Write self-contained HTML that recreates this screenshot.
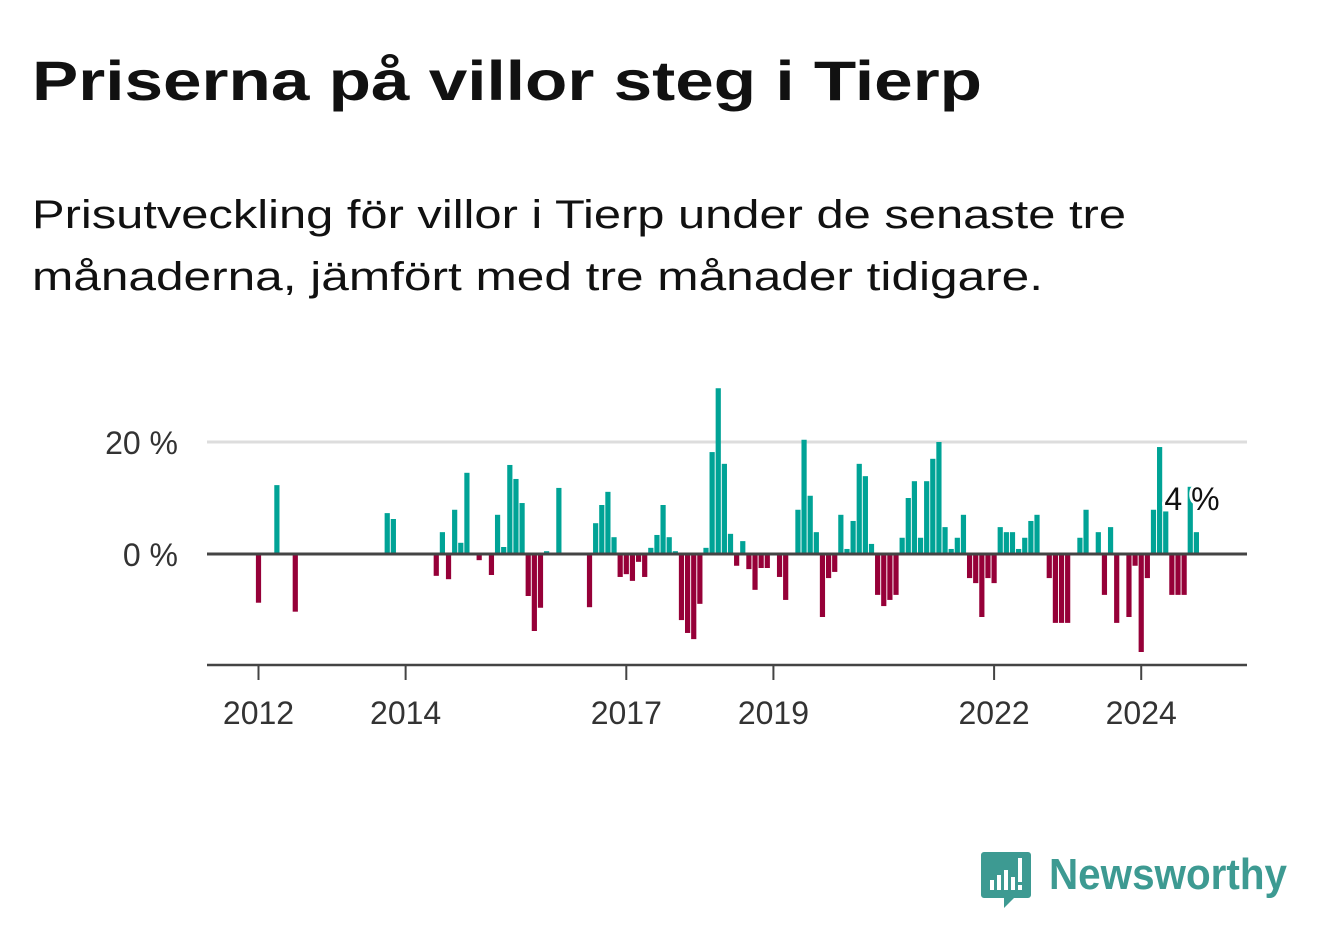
<!DOCTYPE html>
<html><head><meta charset="utf-8"><style>
html,body{margin:0;padding:0;background:#fff;}
svg{display:block;font-family:"Liberation Sans",sans-serif;}
</style></head><body>
<svg id="chart" width="1322" height="939" viewBox="0 0 1322 939" xmlns="http://www.w3.org/2000/svg">
<text x="32" y="100" font-size="56" font-weight="bold" fill="#111" textLength="950" lengthAdjust="spacingAndGlyphs">Priserna på villor steg i Tierp</text>
<text x="32" y="228" font-size="40" fill="#111" textLength="1094" lengthAdjust="spacingAndGlyphs">Prisutveckling för villor i Tierp under de senaste tre</text>
<text x="32" y="290" font-size="40" fill="#111" textLength="1011" lengthAdjust="spacingAndGlyphs">månaderna, jämfört med tre månader tidigare.</text>
<g id="grid"></g>
<g id="bars"></g>
<g id="axes"></g>
<g>
<path d="M984 852 h44 a3 3 0 0 1 3 3 v40 a3 3 0 0 1 -3 3 h-14 l-10 10 v-10 h-20 a3 3 0 0 1 -3 -3 v-40 a3 3 0 0 1 3 -3z" fill="#3d9a92"/>
<rect x="990" y="880" width="4" height="10" fill="#fff"/><rect x="997" y="875" width="4" height="15" fill="#fff"/><rect x="1004" y="870" width="4" height="20" fill="#fff"/><rect x="1011" y="877" width="4" height="13" fill="#fff"/><rect x="1018" y="858" width="4" height="24" fill="#fff"/><rect x="1018" y="885" width="4" height="5" fill="#fff"/>
<text x="1049" y="889" font-size="44" font-weight="bold" fill="#3d9a92" textLength="238" lengthAdjust="spacingAndGlyphs">Newsworthy</text>
</g>
</svg>
<script>
// monthly values (%) starting Jan 2012
const startYear = 2012;
const values = [
-8.7,0,0,12.3,0,0,-10.3,0,0,0,0,0,
0,0,0,0,0,0,0,0,0,7.3,6.25,0,
0,0,0,0,0,-3.9,3.9,-4.5,7.9,2.0,14.5,0,
-1.1,0,-3.75,7.0,1.25,15.9,13.4,9.1,-7.5,-13.75,-9.6,0.5,
0,11.8,0,0,0,0,-9.5,5.5,8.75,11.1,3.0,-4.1,
-3.6,-4.8,-1.4,-4.1,1.1,3.4,8.75,3.0,0.5,-11.8,-14.1,-15.2,
-8.9,1.1,18.2,29.6,16.1,3.6,-2.1,2.3,-2.7,-6.4,-2.5,-2.5,
0,-4.1,-8.2,0,7.9,20.4,10.4,3.9,-11.25,-4.3,-3.2,7.0,
0.9,5.9,16.1,13.9,1.8,-7.3,-9.3,-8.2,-7.3,2.9,10.0,13.0,
2.9,13.0,17.0,20.0,4.8,0.9,2.9,7.0,-4.3,-5.2,-11.25,-4.3,
-5.2,4.8,3.9,3.9,0.9,2.9,5.9,7.0,0,-4.3,-12.3,-12.3,
-12.3,0,2.9,7.9,0,3.9,-7.3,4.8,-12.3,0,-11.25,-2.1,
-17.5,-4.3,7.9,19.1,7.6,-7.3,-7.3,-7.3,12.0,3.9
];
const yTicks = [0, 20];
const yTickLabels = ["0 %", "20 %"];
const xTickYears = [2012, 2014, 2017, 2019, 2022, 2024];
const lastLabel = "4 %";

const NS = "http://www.w3.org/2000/svg";
const x0 = 258.5, monthW = 6.13, plotL = 207, plotR = 1247;
const xScale = i => x0 + i * monthW;
const yScale = v => 554 - v * 5.6;
function mk(tag, attrs, parent){const e=document.createElementNS(NS,tag);for(const k in attrs)e.setAttribute(k,attrs[k]);parent.appendChild(e);return e;}
const grid=document.getElementById('grid'), bars=document.getElementById('bars'), axes=document.getElementById('axes');
yTicks.forEach((t,k)=>{
  if(t!==0){const l=mk('line',{x1:plotL,x2:plotR,y1:yScale(t),y2:yScale(t),stroke:'#dddddd','stroke-width':3},grid);
  
  }
  const tx=mk('text',{x:178,y:yScale(t)+12,'font-size':32,fill:'#333','text-anchor':'end'},grid);
  tx.textContent=yTickLabels[k];
  
  
});
values.forEach((v,i)=>{
  if(v===0) return;
  const y=v>0?yScale(v):yScale(0), h=Math.abs(yScale(v)-yScale(0));
  const r=mk('rect',{x:xScale(i)-2.6,y:y,width:5.2,height:h,fill:v>0?'#00a396':'#960038'},bars);
  
  
});
const zl=mk('line',{x1:plotL,x2:plotR,y1:yScale(0),y2:yScale(0),stroke:'#444','stroke-width':3},axes);


const xl=mk('line',{x1:plotL,x2:plotR,y1:665,y2:665,stroke:'#444','stroke-width':2.5},axes);


xTickYears.forEach(yr=>{
  const x=xScale((yr-startYear)*12);
  const t=mk('line',{x1:x,x2:x,y1:665,y2:680,stroke:'#444','stroke-width':2},axes);
  
  
  const tx=mk('text',{x:x,y:724,'font-size':32,fill:'#333','text-anchor':'middle'},axes);
  tx.textContent=String(yr);
  
  
});
const li=values.length-1;
const lab=mk('text',{x:xScale(li)-32,y:yScale(values[li])-22,'font-size':32,fill:'#111',stroke:'#fff','stroke-width':6,'paint-order':'stroke','stroke-linejoin':'round'},axes);
lab.textContent=lastLabel;


</script>
</body></html>
